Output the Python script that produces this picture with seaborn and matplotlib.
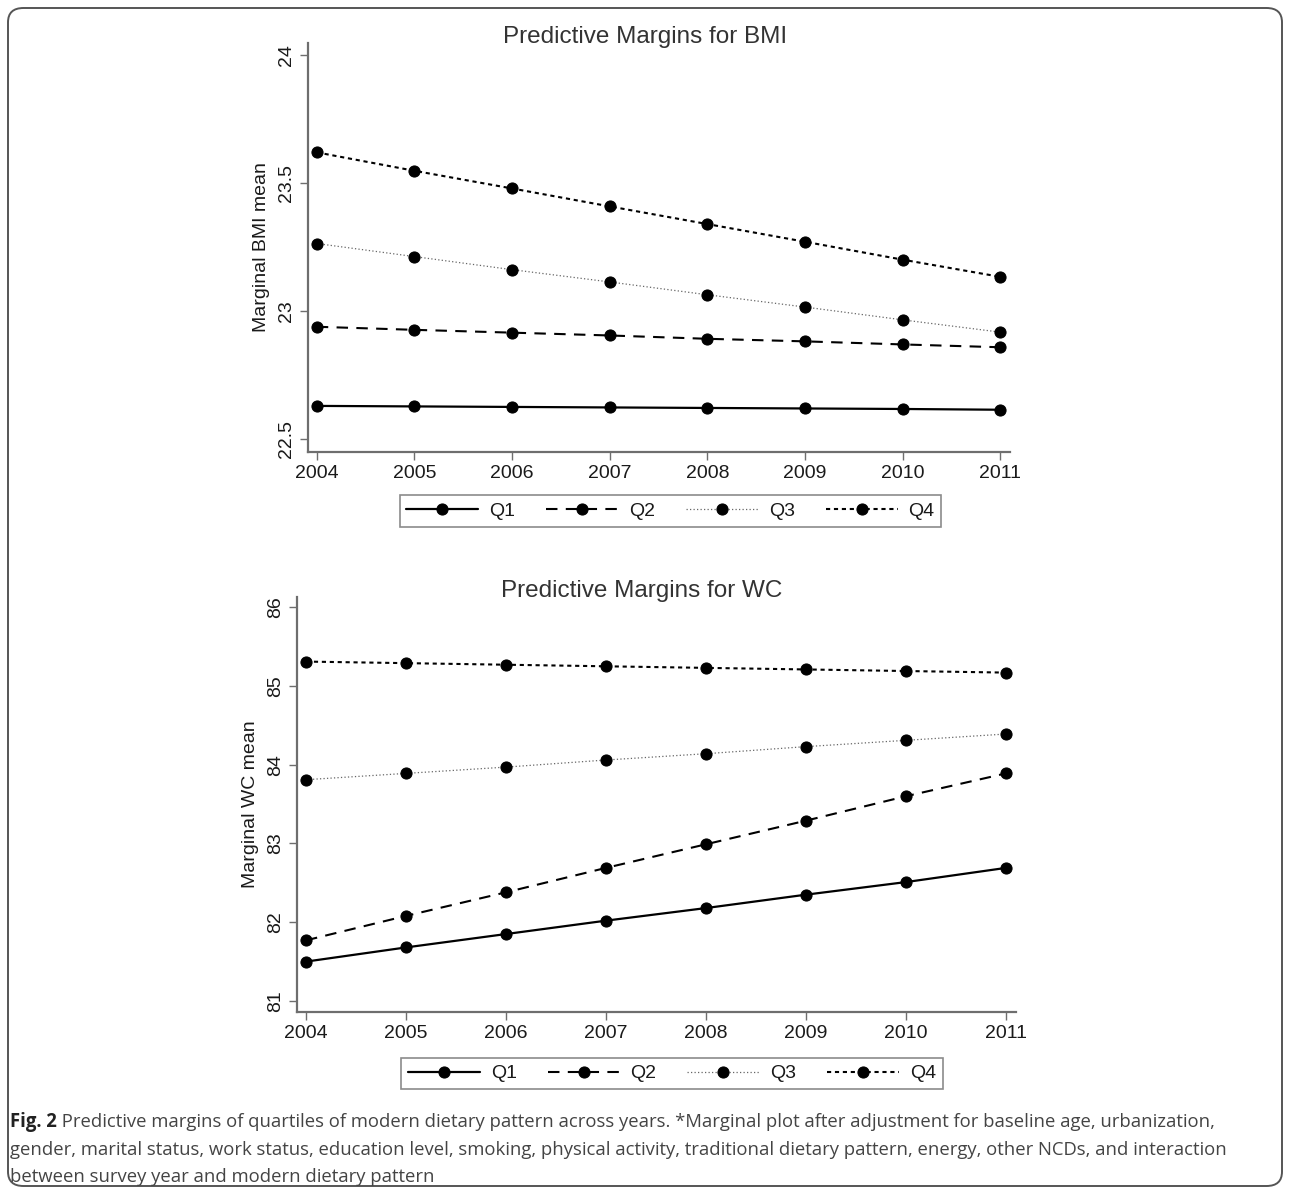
import matplotlib
matplotlib.use("Agg")
import matplotlib.pyplot as plt
import seaborn as sns
from matplotlib.patches import FancyBboxPatch

# ---- data ----
YEARS = [2004, 2005, 2006, 2007, 2008, 2009, 2010, 2011]
QUARTILES = ["Q1", "Q2", "Q3", "Q4"]

BMI_Q1 = [22.630, 22.628, 22.626, 22.624, 22.622, 22.620, 22.618, 22.615]
BMI_Q2 = [22.939, 22.927, 22.916, 22.905, 22.892, 22.882, 22.870, 22.859]
BMI_Q3 = [23.264, 23.213, 23.162, 23.114, 23.064, 23.016, 22.966, 22.918]
BMI_Q4 = [23.620, 23.548, 23.479, 23.409, 23.340, 23.271, 23.201, 23.134]

WC_Q1 = [81.50, 81.68, 81.85, 82.02, 82.18, 82.35, 82.51, 82.69]
WC_Q2 = [81.77, 82.08, 82.38, 82.69, 82.99, 83.29, 83.60, 83.89]
WC_Q3 = [83.81, 83.89, 83.97, 84.06, 84.14, 84.23, 84.31, 84.39]
WC_Q4 = [85.31, 85.29, 85.27, 85.25, 85.23, 85.21, 85.19, 85.17]

BMI_TICKS = [22.5, 23, 23.5, 24]
BMI_TICKLABELS = ["22.5", "23", "23.5", "24"]
WC_TICKS = [81, 82, 83, 84, 85, 86]
WC_TICKLABELS = ["81", "82", "83", "84", "85", "86"]

CAPTION_BOLD = "Fig. 2"
CAPTION_LINES = [
    " Predictive margins of quartiles of modern dietary pattern across years. *Marginal plot after adjustment for baseline age, urbanization,",
    "gender, marital status, work status, education level, smoking, physical activity, traditional dietary pattern, energy, other NCDs, and interaction",
    "between survey year and modern dietary pattern",
]

STYLES = {
    "Q1": dict(color="black", linestyle="-", linewidth=1.6),
    "Q2": dict(color="black", linestyle=(0, (5.5, 4)), linewidth=1.5),
    "Q3": dict(color="#666666", linestyle=(0, (1, 1.8)), linewidth=0.9),
    "Q4": dict(color="black", linestyle=(0, (2, 1.8)), linewidth=1.5),
}

sns.set_theme(style="white")
plt.rcParams["font.family"] = ["Liberation Sans", "DejaVu Sans"]
AX_COLOR = "#6e6e6e"
TXT = "#1a1a1a"
TITLE_COLOR = "#333333"

W, H = 1290, 1194
fig = plt.figure(figsize=(W / 100, H / 100), dpi=100)


def px_axes(left, top, right, bottom):
    return fig.add_axes([left / W, 1 - bottom / H, (right - left) / W, (bottom - top) / H])


def draw_panel(ax, series, title, ylabel, ylim, ticks, ticklabels, leg_box):
    for q, vals in zip(QUARTILES, series):
        st = STYLES[q]
        sns.lineplot(x=YEARS, y=vals, ax=ax, marker="o", markersize=8,
                     markerfacecolor="black", markeredgecolor="black",
                     label=q, **st)
    ax.set_xlim(2003.91, 2011.1)
    ax.set_ylim(*ylim)
    ax.set_xticks(YEARS)
    ax.set_xticklabels([str(y) for y in YEARS], fontsize=14, color=TXT)
    ax.set_yticks(ticks)
    ax.set_yticklabels(ticklabels, fontsize=14, color=TXT, rotation=90, va="center")
    ax.tick_params(axis="both", which="major", direction="out", length=6,
                   width=1.0, color=AX_COLOR, left=True, bottom=True, pad=3)
    for side in ["top", "right"]:
        ax.spines[side].set_visible(False)
    for side in ["left", "bottom"]:
        ax.spines[side].set_color(AX_COLOR)
        ax.spines[side].set_linewidth(1.6)
    ax.set_xlabel("")
    ax.set_ylabel(ylabel, fontsize=14, color=TXT, labelpad=6)
    ax.set_title(title, fontsize=17.5, color=TITLE_COLOR, pad=0, x=0.48)
    ax.grid(False)

    handles, labels = ax.get_legend_handles_labels()
    ax.get_legend().remove()
    l, t, r, b = leg_box
    leg = fig.legend(handles, labels, ncol=4, loc="center",
                     bbox_to_anchor=((l + r) / 2 / W, 1 - (t + b) / 2 / H),
                     fontsize=14, handlelength=3.7, handletextpad=0.55,
                     columnspacing=1.6, numpoints=1, frameon=True,
                     fancybox=False, borderpad=0.35, borderaxespad=0)
    leg.get_frame().set_edgecolor(AX_COLOR)
    leg.get_frame().set_linewidth(1.2)
    for txt in leg.get_texts():
        txt.set_color(TXT)


ax_bmi = px_axes(308, 43, 1010, 452)
draw_panel(ax_bmi, [BMI_Q1, BMI_Q2, BMI_Q3, BMI_Q4],
           "Predictive Margins for BMI", "Marginal BMI mean",
           (22.45, 24.047), BMI_TICKS, BMI_TICKLABELS, (396, 493, 945, 529))

ax_wc = px_axes(297, 597, 1016, 1012)
draw_panel(ax_wc, [WC_Q1, WC_Q2, WC_Q3, WC_Q4],
           "Predictive Margins for WC", "Marginal WC mean",
           (80.86, 86.13), WC_TICKS, WC_TICKLABELS, (392, 1055, 952, 1092))

# caption: size chosen so the first line spans the same width as the reference
cap_font = ["Open Sans", "DejaVu Sans"]
cap_color = "#444444"
baselines = [1127, 1155, 1182]
renderer = fig.canvas.get_renderer()
probe = fig.text(0, 0, CAPTION_BOLD + CAPTION_LINES[0], fontsize=12, family=cap_font)
probe_w = probe.get_window_extent(renderer=renderer).width
probe.remove()
cap_size = 12 * 1200 / probe_w

bold = fig.text(10 / W, 1 - baselines[0] / H, CAPTION_BOLD, fontsize=cap_size,
                fontweight="bold", family=cap_font, color="#222222",
                va="baseline", ha="left")
bb = bold.get_window_extent(renderer=renderer)
fig.text(bb.x1 / W, 1 - baselines[0] / H, CAPTION_LINES[0], fontsize=cap_size,
         family=cap_font, color=cap_color, va="baseline", ha="left")
for line, yb in zip(CAPTION_LINES[1:], baselines[1:]):
    fig.text(10 / W, 1 - yb / H, line, fontsize=cap_size, family=cap_font,
             color=cap_color, va="baseline", ha="left")

# outer rounded frame
frame = FancyBboxPatch((8 / W, 8 / H), (W - 16) / W, (H - 16) / H,
                       boxstyle="round,pad=0,rounding_size=0.012",
                       transform=fig.transFigure, fill=False,
                       edgecolor="#555555", linewidth=1.4)
fig.patches.append(frame)

fig.savefig("out.png", dpi=100)
